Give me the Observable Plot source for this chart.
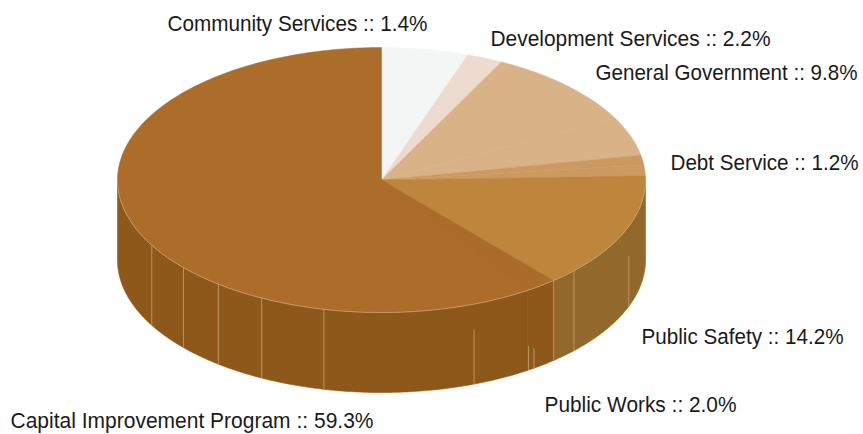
<!DOCTYPE html>
<html>
<head>
<meta charset="utf-8">
<script src="https://cdn.jsdelivr.net/npm/d3@7"></script>
<script src="https://cdn.jsdelivr.net/npm/@observablehq/plot@0.6"></script>
<style>
  html, body { margin: 0; padding: 0; background: #fff; }
  svg { display: block; }
</style>
</head>
<body>
<div id="chart"></div>
<script>
// Budget sectors, clockwise from twelve o'clock.
const names = ["Community Services", "Development Services", "General Government",
  "Debt Service", "Public Safety", "Public Works", "Capital Improvement Program"];
const statedPercent = [1.4, 2.2, 9.8, 1.2, 14.2, 2.0, 59.3];
// The stated figures total 90.1%; the rest of the disc sits inside these sectors.
const unstatedPercent = [3.9, 0, 4.7, 1.3, 0, 0, 0];

const topColors = ["#f4f6f5", "#eedbcf", "#d9b287", "#cc9a61", "#be853c", "#ab6c29", "#ad6d2a"];
const wallColors = ["#d0d0d0", "#c4b0a0", "#a98a60", "#9c7440", "#93682c", "#8e581b", "#8e581b"];

// Panel joins on the side wall: position around the disc (percent), and how far
// down the wall each one starts (0 = rim, 1 = base).
const seamPercent = [30.7, 37.0, 38.7, 40.2, 40.6, 44.3, 53.5, 57.5, 60.6, 63.5, 66.8];
const seamStart = [0.37, 0, 0, 0.75, 0.7, 0.32, 0, 0, 0, 0, 0];

// Where each label begins and how wide it is set.
const labelX = [167, 490, 595, 670, 641, 544, 10];
const labelY = [23, 38, 72, 162, 336, 404, 420];
const labelWidth = [260, 280, 262, 188, 202, 192, 363];

// Projection of the tilted disc.
const disc = {cx: 381, cy: 179.5, rx: 264, ry: 132.5, depth: 80};
const rim = (pct, drop = 0) => {
  const a = (pct / 100) * 2 * Math.PI;
  return {
    x: disc.cx + disc.rx * Math.sin(a),
    y: disc.cy - disc.ry * Math.cos(a) + drop
  };
};
const arc = (from, to, drop = 0) => {
  const n = Math.max(2, Math.ceil((to - from) / 0.2));
  return d3.range(n + 1).map(i => rim(from + (to - from) * i / n, drop));
};

// Lay the sectors end to end; each has its stated part and any further part.
const pieces = [];
let running = 0;
names.forEach((name, i) => {
  [statedPercent[i], unstatedPercent[i]].forEach((size, j) => {
    if (size > 0) pieces.push({id: `${i}-${j}`, from: running, to: running + size, i});
    running += size;
  });
});

const topRows = pieces.flatMap(p => {
  const centre = {x: disc.cx, y: disc.cy};
  return [centre, ...arc(p.from, p.to), centre]
    .map(pt => ({...pt, id: p.id, color: topColors[p.i]}));
});

// Only the near half of the wall (25%..75%) faces the viewer.
const wallRows = pieces.flatMap(p => {
  const from = Math.max(p.from, 25), to = Math.min(p.to, 75);
  if (to <= from) return [];
  const upper = arc(from, to);
  const lower = arc(from, to, disc.depth).reverse();
  return [...upper, ...lower, upper[0]]
    .map(pt => ({...pt, id: p.id, color: wallColors[p.i]}));
});

const seamRows = seamPercent.map((pct, i) => {
  const a = rim(pct, seamStart[i] * disc.depth), b = rim(pct, disc.depth);
  return {x1: a.x, y1: a.y, x2: b.x, y2: b.y};
});

// Faint edge along the Public Works / Capital boundary on the top face.
const worksEdge = pieces.find(p => p.i === 5);
const edgeEnd = rim(worksEdge.to);
const edgeRows = [{x1: disc.cx, y1: disc.cy, x2: edgeEnd.x, y2: edgeEnd.y}];

const rimRows = arc(25, 75);

const labelRows = names.map((name, i) => ({
  x: labelX[i], y: labelY[i], text: `${name} :: ${statedPercent[i].toFixed(1)}%`
}));

const chart = Plot.plot({
  width: 863,
  height: 434,
  margin: 0,
  x: {domain: [0, 863], range: [0, 863], axis: null},
  y: {domain: [0, 434], range: [0, 434], axis: null},
  style: {background: "#fff"},
  marks: [
    Plot.line(wallRows, {x: "x", y: "y", z: "id", fill: "color", stroke: "color", strokeWidth: 0.6}),
    Plot.link(seamRows, {x1: "x1", y1: "y1", x2: "x2", y2: "y2", stroke: "#b8935f", strokeWidth: 1}),
    Plot.line(topRows, {x: "x", y: "y", z: "id", fill: "color", stroke: "color", strokeWidth: 0.5}),
    Plot.link(edgeRows, {x1: "x1", y1: "y1", x2: "x2", y2: "y2", stroke: "#a56626", strokeWidth: 0.7}),
    Plot.line(rimRows, {x: "x", y: "y", stroke: "#d8b88c", strokeWidth: 0.7, strokeOpacity: 0.8}),
    Plot.text(labelRows, {
      x: "x", y: "y", text: "text",
      textAnchor: "start",
      fontFamily: "'Liberation Sans', sans-serif",
      fontSize: 22,
      fill: "#1a1a1a",
      className: "slice-label"
    })
  ]
});
document.getElementById("chart").appendChild(chart);

// No condensed face is available, so narrow the glyphs to the set width.
chart.querySelectorAll(".slice-label text").forEach((t, i) => {
  t.setAttribute("textLength", labelWidth[i]);
  t.setAttribute("lengthAdjust", "spacingAndGlyphs");
});
</script>
</body>
</html>
